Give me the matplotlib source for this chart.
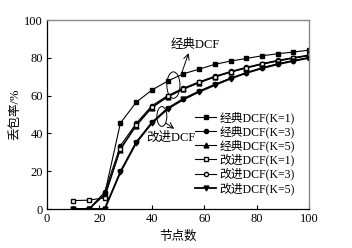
import matplotlib
matplotlib.use("Agg")
import matplotlib.pyplot as plt
from matplotlib.patches import Ellipse

plt.rcParams['font.family'] = ['Liberation Serif', 'Noto Sans CJK SC', 'DejaVu Sans']

nodes = [10, 16, 22, 28, 34, 40, 46, 52, 58, 64, 70, 76, 82, 88, 94, 100]
classic_k1 = [0, 0, 8, 45.5, 56.5, 63, 67.7, 71.6, 74, 76.6, 78.3, 79.7, 81.1, 82.2, 83.1, 84.1]
classic_k3 = [0, 0, 9, 33.5, 45.3, 54.7, 60, 64, 67.3, 70.3, 72.8, 75, 77, 78.7, 80.2, 81.5]
classic_k5 = [0, 0, 7.5, 31.5, 44, 53.6, 59.3, 63.4, 66.8, 69.8, 72.4, 74.6, 76.6, 78.3, 79.8, 81.2]
improved_k1 = [4.5, 4.7, 6, 32, 44.5, 54, 59.6, 63.7, 67, 70, 72.5, 74.8, 76.8, 78.5, 80, 81.3]
improved_k3 = [0, 0, 0, 20, 35.5, 46, 53.5, 58.5, 62.5, 66, 69.3, 72.2, 74.8, 76.9, 78.6, 80.2]
improved_k5 = [0, 0, 0, 19.5, 35, 45.5, 53, 58, 62, 65.6, 69, 72, 74.5, 76.6, 78.4, 80]

labels = ['经典DCF(K=1)', '经典DCF(K=3)', '经典DCF(K=5)',
          '改进DCF(K=1)', '改进DCF(K=3)', '改进DCF(K=5)']
xticks = [0, 20, 40, 60, 80, 100]
yticks = [0, 20, 40, 60, 80, 100]

fig = plt.figure(figsize=(3.52, 2.48), dpi=100)
ax = fig.add_axes([0.1335, 0.157, 0.745, 0.762])

ax.plot(nodes, classic_k1, color='black', lw=0.8, marker='s', ms=3, mfc='black', label=labels[0])
ax.plot(nodes, classic_k3, color='black', lw=0.8, marker='o', ms=3, mfc='black', label=labels[1])
ax.plot(nodes, classic_k5, color='black', lw=0.8, marker='^', ms=3.5, mfc='black', label=labels[2])
ax.plot(nodes, improved_k1, color='black', lw=0.8, marker='s', ms=3, mfc='white', label=labels[3])
ax.plot(nodes, improved_k3, color='black', lw=0.8, marker='o', ms=3, mfc='white', label=labels[4])
ax.plot(nodes, improved_k5, color='black', lw=1.3, marker='v', ms=3.5, mfc='black', label=labels[5])

ax.set_xlim(0, 100)
ax.set_ylim(0, 100)
ax.set_xticks(xticks)
ax.set_yticks(yticks)
ax.tick_params(direction='in', length=3, width=0.8, labelsize=9, top=False, right=False, pad=3)
for s in ['top', 'right']:
    ax.spines[s].set_color('#888888')
    ax.spines[s].set_linewidth(1.0)
for s in ['left', 'bottom']:
    ax.spines[s].set_linewidth(0.9)

ax.set_xlabel('节点数', fontsize=9, labelpad=4)
ax.set_ylabel('丢包率/%', fontsize=9, labelpad=2)

# annotations
ax.add_patch(Ellipse((48.2, 65.6), 5, 14, fill=False, lw=0.7, color='black'))
ax.text(56.5, 86.8, '经典DCF', fontsize=9, ha='center', va='center')
ax.annotate('', xy=(54, 82.5), xytext=(51.5, 72.5),
            arrowprops=dict(arrowstyle='->', lw=0.7, color='black', shrinkA=0, shrinkB=0))
ax.add_patch(Ellipse((43.8, 49), 3.8, 10.5, fill=False, lw=0.7, color='black'))
ax.text(38, 37.5, '改进DCF', fontsize=9, ha='left', va='center')
ax.annotate('', xy=(48.5, 42.5), xytext=(45.3, 45.5),
            arrowprops=dict(arrowstyle='->', lw=0.7, color='black', shrinkA=0, shrinkB=0))

leg = ax.legend(loc='lower right', fontsize=8.5, frameon=False, handlelength=1.8,
                handletextpad=0.3, labelspacing=0.12, borderaxespad=0.8)

fig.savefig('out.png', dpi=100)
